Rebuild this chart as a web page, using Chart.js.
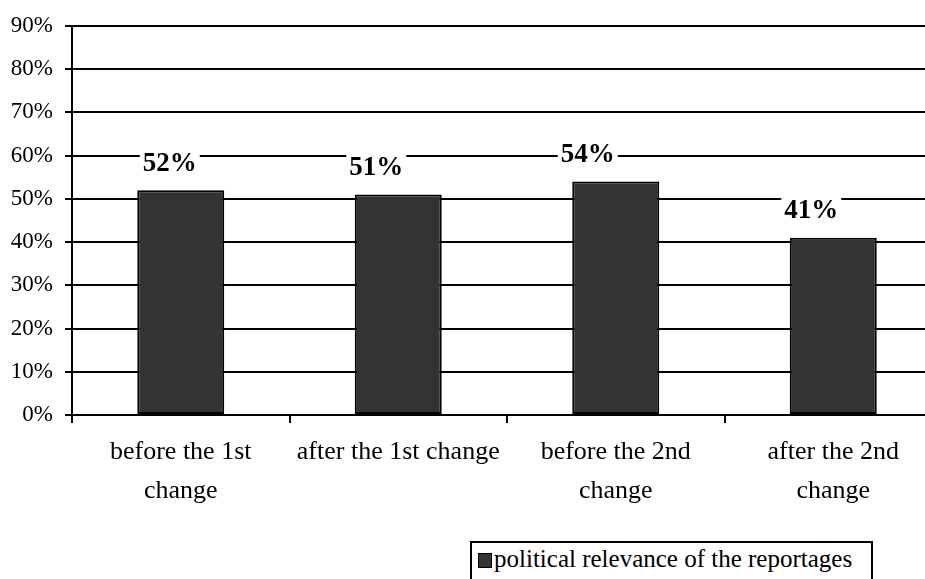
<!DOCTYPE html>
<html>
<head>
<meta charset="utf-8">
<script src="https://cdn.jsdelivr.net/npm/chart.js"></script>
<style>
  html, body { margin: 0; padding: 0; background: #fff; overflow: hidden; }
  #wrap { position: relative; width: 942px; height: 579px; }
  #box { position: absolute; left: 0; top: 0; width: 942px; height: 535px; }
  #legend {
    position: absolute; left: 470px; top: 541px; width: 403px; height: 60px;
    border: 2px solid #000; font-family: 'Liberation Serif', serif; font-size: 25px;
    color: #000; box-sizing: border-box;
  }
  #legend .sw {
    position: absolute; left: 6px; top: 10px; width: 12px; height: 13px;
    background: #333333; border: 1px solid #000;
  }
  #legend .txt { position: absolute; left: 22px; top: 2px; white-space: nowrap; }
</style>
</head>
<body>
<div id="wrap">
  <div id="box"><canvas id="politChart"></canvas></div>
  <div id="legend"></div>
</div>
<script>
// Datos del gráfico
const categorias = [
  ['before the 1st', 'change'],
  'after the 1st change',
  ['before the 2nd', 'change'],
  ['after the 2nd', 'change']
];
const relevancia = [52, 51, 54, 41];
const serieNombre = 'political relevance of the reportages';
const ticksY = [0, 10, 20, 30, 40, 50, 60, 70, 80, 90];

// Desplazamiento horizontal de cada etiqueta (px, respecto al centro de la barra)
const desplazEtiqueta = [-11, -22, -28, -22];

const fuente = "'Liberation Serif', serif";

// Etiquetas de valor sobre cada barra, con fondo blanco
const etiquetasValor = {
  id: 'etiquetasValor',
  afterDatasetsDraw(chart) {
    const ctx = chart.ctx;
    const meta = chart.getDatasetMeta(0);
    ctx.save();
    ctx.font = 'bold 27px ' + fuente;
    ctx.textAlign = 'center';
    ctx.textBaseline = 'middle';
    meta.data.forEach((bar, i) => {
      const txt = relevancia[i] + '%';
      const w = ctx.measureText(txt).width;
      const x = bar.x + desplazEtiqueta[i];
      const y = bar.y - 27.5;
      ctx.fillStyle = '#fff';
      ctx.fillRect(x - w / 2 - 3, y - 14, w + 6, 28);
      ctx.fillStyle = '#000';
      ctx.fillText(txt, x, y + 1);
    });
    ctx.restore();
  }
};

function crearGrafico() {
  const ctx = document.getElementById('politChart').getContext('2d');
  new Chart(ctx, {
    type: 'bar',
    data: {
      labels: categorias,
      datasets: [{
        label: serieNombre,
        data: relevancia,
        backgroundColor: '#333333',
        borderColor: '#000',
        borderWidth: 2,
        borderSkipped: false,
        categoryPercentage: 1,
        barPercentage: 0.4
      }]
    },
    options: {
      responsive: true,
      maintainAspectRatio: false,
      animation: false,
      layout: { padding: { top: 17, left: 0, right: 0, bottom: 0 } },
      plugins: {
        legend: { display: false },
        tooltip: { enabled: false }
      },
      scales: {
        y: {
          min: 0,
          max: 90,
          afterBuildTicks(scale) {
            scale.ticks = ticksY.map(v => ({ value: v }));
          },
          afterFit(scale) { scale.width = 72; },
          ticks: {
            color: '#000',
            font: { family: fuente, size: 23 },
            padding: 12,
            callback: v => v + '%'
          },
          grid: { color: '#000', lineWidth: 2, tickLength: 7 },
          border: { color: '#000', width: 2 }
        },
        x: {
          afterFit(scale) { scale.height = 120; },
          ticks: {
            color: '#000',
            font: { family: fuente, size: 26, lineHeight: 1.5 },
            padding: 10,
            maxRotation: 0,
            autoSkip: false
          },
          grid: { drawOnChartArea: false, color: '#000', lineWidth: 2, tickLength: 8, offset: true },
          border: { color: '#000', width: 2 }
        }
      }
    },
    plugins: [etiquetasValor]
  });
}

// Leyenda con recuadro
document.getElementById('legend').innerHTML =
  '<span class="sw"></span><span class="txt">' + serieNombre + '</span>';

Promise.all([
  document.fonts.load("23px 'Liberation Serif'"),
  document.fonts.load("bold 27px 'Liberation Serif'")
]).then(crearGrafico, crearGrafico);
</script>
</body>
</html>
